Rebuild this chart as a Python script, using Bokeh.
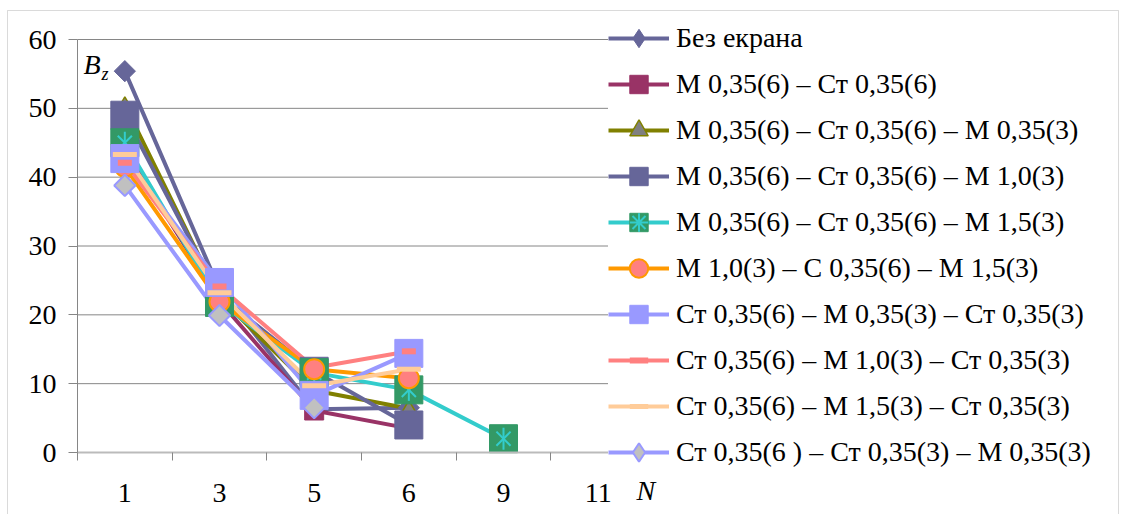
import math
from bokeh.plotting import figure
from bokeh.models import (Range1d, FixedTicker, Legend, LegendItem, Label, BoxAnnotation)
from bokeh.embed import file_html
from bokeh.resources import INLINE

nan = float("nan")

# ---- data ----
categories = ["1", "3", "5", "6", "9", "11"]
y_ticks = [0, 10, 20, 30, 40, 50, 60]

names = [
    "Без екрана",
    "М 0,35(6) – Ст 0,35(6)",
    "М 0,35(6) – Ст 0,35(6) – М 0,35(3)",
    "М 0,35(6) – Ст 0,35(6) – М 1,0(3)",
    "М 0,35(6) – Ст 0,35(6) – М 1,5(3)",
    "М 1,0(3) – С 0,35(6) – М 1,5(3)",
    "Ст 0,35(6) – М 0,35(3) – Ст 0,35(3)",
    "Ст 0,35(6) – М 1,0(3) – Ст 0,35(3)",
    "Ст 0,35(6) – М 1,5(3) – Ст 0,35(3)",
    "Ст 0,35(6 ) – Ст 0,35(3) – М 0,35(3)",
]
s1 = [55.4, 23.7, 6.3, 6.5, nan, nan]
s2 = [44.0, 22.0, 6.1, 3.5, nan, nan]
s3 = [50.5, 22.5, 9.0, 6.4, nan, nan]
s4 = [49.0, 22.8, 11.8, 4.0, nan, nan]
s5 = [45.0, 21.8, 11.6, 9.1, 2.0, nan]
s6 = [41.5, 21.9, 12.1, 10.8, nan, nan]
s7 = [42.7, 24.7, 8.3, 14.4, nan, nan]
s8 = [42.1, 24.1, 12.3, 14.7, nan, nan]
s9 = [43.3, 23.2, 9.7, 12.1, nan, nan]
s10 = [38.8, 19.9, 6.5, nan, nan, nan]
series = [s1, s2, s3, s4, s5, s6, s7, s8, s9, s10]

line_colors = ["#666699", "#993366", "#808000", "#666699", "#33CCCC",
               "#FF9900", "#9999FF", "#FF8080", "#FFCC99", "#9999FF"]

# ---- layout (pixels) ----
W, H = 1124, 514
AX_L, AX_R = 77, 645      # left / right edge of the category area
Y_TOP, Y_BOT = 39, 452    # pixel rows of 60 and 0
n = len(categories)
xscale = (AX_R - AX_L) / n
yscale = (Y_BOT - Y_TOP) / (y_ticks[-1] - y_ticks[0])
x_start = 0.5 - AX_L / xscale
x_end = x_start + W / xscale
y_end = y_ticks[-1] + Y_TOP / yscale
y_start = y_end - H / yscale


def px_x(px):
    return x_start + px / xscale


def px_y(py):
    return y_end - py / yscale


xs = list(range(1, n + 1))
FONT = "'Liberation Serif', 'Times New Roman', serif"

p = figure(width=W, height=H, output_backend="svg", toolbar_location=None,
           x_range=Range1d(x_start, x_end), y_range=Range1d(y_start, y_end),
           min_border=0)
p.outline_line_color = None
p.background_fill_color = "white"
p.border_fill_color = "white"

# axes (fixed inside the full-canvas frame)
xa = p.xaxis[0]
xa.fixed_location = 0
xa.bounds = (0.5, n + 0.5)
xa.ticker = FixedTicker(ticks=xs, minor_ticks=[x - 0.5 for x in xs] + [xs[-1] + 0.5])
xa.major_label_overrides = {x: c for x, c in zip(xs, categories)}
xa.major_tick_out = 0
xa.major_tick_in = 0
xa.minor_tick_out = 8
xa.minor_tick_in = 0
xa.minor_tick_line_color = "#868686"
xa.axis_line_color = "#BBBBBB"
xa.axis_line_width = 2
xa.major_label_standoff = 23
xa.major_label_text_font = FONT
xa.major_label_text_font_size = "28px"
xa.major_label_text_color = "black"

ya = p.yaxis[0]
ya.fixed_location = 0.5
ya.bounds = (y_ticks[0], y_ticks[-1])
ya.ticker = FixedTicker(ticks=y_ticks)
ya.major_tick_out = 9
ya.major_tick_in = 0
ya.minor_tick_line_color = None
ya.axis_line_color = "#868686"
ya.major_tick_line_color = "#868686"
ya.major_label_standoff = 12
ya.major_label_text_font = FONT
ya.major_label_text_font_size = "28px"
ya.major_label_text_color = "black"

p.xgrid.grid_line_color = None
p.ygrid.grid_line_color = None

# horizontal gridlines limited to the plot area
p.segment(x0=[0.5] * len(y_ticks), x1=[n + 0.5] * len(y_ticks), y0=y_ticks, y1=y_ticks,
          line_color="#868686", line_width=1)

# lines
line_rs = []
for vals, col in zip(series, line_colors):
    line_rs.append(p.line(xs, vals, line_color=col, line_width=4, line_join="round"))

# markers
m = {}
m[0] = [p.scatter(xs, s1, marker="square", angle=math.pi / 4, size=15,
                  fill_color="#666699", line_color="#666699")]
m[1] = [p.scatter(xs, s2, marker="square", size=19, fill_color="#993366", line_color="#993366")]
m[2] = [p.scatter(xs, s3, marker="triangle", size=14, fill_color="#808080",
                  line_color="#808000", line_width=1.5)]
m[3] = [p.scatter(xs, s4, marker="square", size=28, fill_color="#666699", line_color="#666699")]
sq5 = p.scatter(xs, s5, marker="square", size=28, fill_color="#339966", line_color="#339966")
p.scatter(xs, s5, marker="x", size=20, line_color="#33CCCC", line_width=2)
p.scatter(xs, s5, marker="dash", angle=math.pi / 2, size=22, line_color="#33CCCC", line_width=2)
m[5] = [p.scatter(xs, s6, marker="circle", size=20, fill_color="#FF8080",
                  line_color="#FF9900", line_width=2)]
m[6] = [p.scatter(xs, s7, marker="square", size=28, fill_color="#9999FF", line_color="#9999FF")]
m[7] = [p.scatter(xs, s8, marker="dash", size=14, line_color="#FF8080", line_width=6)]
m[8] = [p.scatter(xs, s9, marker="dash", size=24, line_color="#FFCC99", line_width=5)]
m[9] = [p.scatter(xs, s10, marker="square", angle=math.pi / 4, size=15,
                  fill_color="#C0C0C0", line_color="#9999FF", line_width=2)]

# legend-only glyphs (legend draws markers unrotated)
leg_d1 = p.scatter([nan], [nan], marker="diamond", size=20, fill_color="#666699", line_color="#666699")
leg_d10 = p.scatter([nan], [nan], marker="diamond", size=20, fill_color="#C0C0C0",
                    line_color="#9999FF", line_width=2)
leg_ast = p.scatter([nan], [nan], marker="asterisk", size=20, line_color="#33CCCC", line_width=2)
m[4] = [sq5, leg_ast]

items = []
for i, nm in enumerate(names):
    rs = [line_rs[i]]
    if i == 0:
        rs.append(leg_d1)
    elif i == 9:
        rs.append(leg_d10)
    else:
        rs += m[i]
    items.append(LegendItem(label=nm, renderers=rs))

legend = Legend(items=items, location=(608, H - 475), glyph_width=61, glyph_height=46,
                spacing=0, label_standoff=7, padding=0, margin=0,
                border_line_color=None, background_fill_color="white",
                background_fill_alpha=1.0, label_text_font=FONT,
                label_text_font_size="28px", label_text_color="black")
p.add_layout(legend, "center")

# axis titles
p.add_layout(Label(x=px_x(83), y=px_y(64), text="B", text_font=FONT, text_font_style="italic",
                   text_font_size="28px", text_color="black", text_baseline="alphabetic"))
p.add_layout(Label(x=px_x(101), y=px_y(73), text="z", text_font=FONT, text_font_style="italic",
                   text_font_size="18px", text_color="black", text_baseline="alphabetic"))
p.add_layout(Label(x=px_x(636), y=px_y(490), text="N", text_font=FONT, text_font_style="italic",
                   text_font_size="28px", text_color="black", text_baseline="alphabetic"))

# outer chart border
p.add_layout(BoxAnnotation(left=px_x(7), right=px_x(1118), top=px_y(10), bottom=px_y(H + 20),
                           fill_alpha=0, line_color="#868686", line_width=1))

open("out.html", "w").write(file_html(p, INLINE))
